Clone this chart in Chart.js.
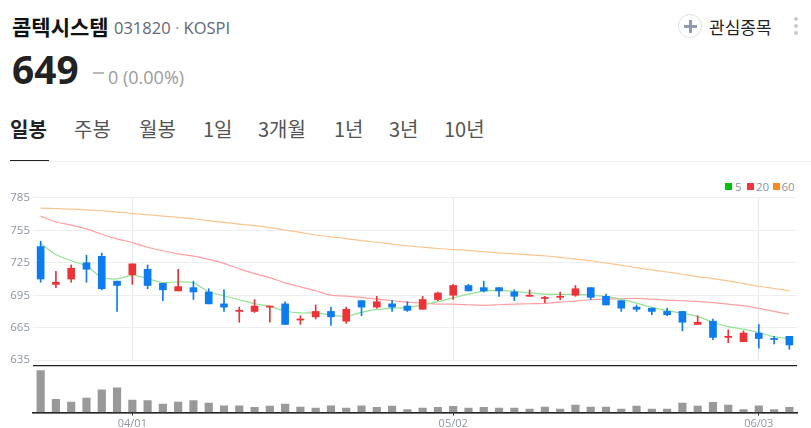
<!DOCTYPE html>
<html lang="ko"><head><meta charset="utf-8">
<script src="https://cdn.jsdelivr.net/npm/chart.js@4/dist/chart.umd.min.js"></script>
<style>
html,body{margin:0;padding:0;background:#fff;width:811px;height:428px;overflow:hidden}
body{font-family:"Noto Sans CJK KR","Noto Sans",sans-serif;position:relative}
.t{position:absolute;white-space:nowrap;transform:translateY(-50%);line-height:1}
canvas{position:absolute;left:0}
.tab{font-size:20px;color:#555}
.b{position:absolute;top:183px;width:7px;height:7px}
.l{font-size:11.5px;color:#8b95a1;font-family:'Open Sans'}
</style></head><body>
<div class="t" style="left:12px;top:26px;font-size:21px;font-weight:700;color:#111">콤텍시스템</div>
<div class="t" style="left:114px;top:28px;font-size:16.5px;color:#5f6877;font-family:'Open Sans'">031820 <span style="color:#9aa2ad">·</span> KOSPI</div>
<div class="t" style="left:12px;top:69px;font-size:38.8px;font-weight:700;color:#222;font-family:'Noto Sans'">649</div>
<div style="position:absolute;left:93px;top:72px;width:11px;height:1.5px;background:#bbb"></div>
<div class="t" style="left:108px;top:77px;font-size:18px;color:#9b9b9b;font-family:'Open Sans'">0 (0.00%)</div>
<div style="position:absolute;left:678px;top:14px;width:22px;height:22px;border:1.5px solid #dde0e7;border-radius:50%"></div>
<div style="position:absolute;left:684px;top:24.5px;width:13px;height:3px;background:#8e9bb1"></div>
<div style="position:absolute;left:689px;top:19.5px;width:3px;height:13px;background:#8e9bb1"></div>
<div class="t" style="left:709px;top:26px;font-size:17px;color:#222">관심종목</div>
<div style="position:absolute;left:794px;top:17px;width:4px;height:4px;border-radius:50%;background:#c6cad2"></div>
<div style="position:absolute;left:794px;top:24px;width:4px;height:4px;border-radius:50%;background:#c6cad2"></div>
<div style="position:absolute;left:794px;top:31px;width:4px;height:4px;border-radius:50%;background:#c6cad2"></div>
<div class="t tab" style="left:10px;top:129px;font-weight:700;color:#222">일봉</div>
<div class="t tab" style="left:74px;top:129px">주봉</div>
<div class="t tab" style="left:139px;top:129px">월봉</div>
<div class="t tab" style="left:203px;top:129px">1일</div>
<div class="t tab" style="left:258px;top:129px">3개월</div>
<div class="t tab" style="left:334px;top:129px">1년</div>
<div class="t tab" style="left:389px;top:129px">3년</div>
<div class="t tab" style="left:444px;top:129px">10년</div>
<div style="position:absolute;left:10px;top:161px;width:801px;height:1px;background:#eeeff1"></div>
<div style="position:absolute;left:10px;top:160px;width:39px;height:1.2px;background:#222"></div>
<div class="b" style="left:725px;background:#00c30f"></div><div class="t l" style="left:735px;top:186.5px">5</div>
<div class="b" style="left:747px;background:#f4333f"></div><div class="t l" style="left:756px;top:186.5px">20</div>
<div class="b" style="left:773px;background:#fa8a1e"></div><div class="t l" style="left:781.5px;top:186.5px">60</div>
<canvas id="price" width="811" height="182" style="top:188px"></canvas>
<canvas id="vol" width="811" height="63" style="top:365px"></canvas>
<script>
const categories=['03/22','03/25','03/26','03/27','03/28','03/29','04/01','04/02','04/03','04/04','04/05','04/08','04/09','04/10','04/11','04/12','04/15','04/16','04/17','04/18','04/19','04/22','04/23','04/24','04/25','04/26','04/29','05/02','05/03','05/07','05/08','05/09','05/10','05/13','05/14','05/15','05/16','05/17','05/20','05/21','05/22','05/23','05/24','05/27','05/28','05/29','05/30','06/03','06/04','06/05'];
const opens=[740,705,710,725,731,708,714,719,706,699,702,698,687,680,680,684,687,672,675,680,671,690,684,687,685,682,691,695,704,702,702,698,694,692,693,695,702,694,690,684,683,680,680,668,671,656,652,660,655,657];
const closes=[710,707,720,719,701,704,724,704,700,703,698,687,684,681,685,685,668,673,680,675,682,684,689,684,681,691,697,704,699,699,699,694,695,693,694,701,693,686,683,682,680,677,670,670,656,657,660,655,654,649];
const highs=[745,717,723,732,734,708,724,723,706,719,708,701,700,684,691,685,689,676,686,684,684,690,694,690,689,694,698,705,705,708,702,700,700,694,698,704,702,696,690,686,683,683,680,676,673,663,662,668,657,657];
const lows=[707,702,707,707,700,680,705,701,690,699,691,687,680,670,679,670,668,668,673,667,669,676,683,680,680,682,690,691,699,698,694,690,694,688,691,694,691,686,680,680,677,676,662,668,654,651,652,646,650,645];
const ma5=[742.8,732.7,726.9,722,711.6,710.1,713.4,710.4,706.7,707.3,706.4,698.2,694.5,690.8,687.1,684.7,680.4,678.6,678.6,676.7,675.5,679.2,681.9,682.9,683.8,685.9,689,692.6,696,698.8,699.4,698.5,697.2,696,695.7,695.7,695.1,693.9,691.4,687.7,683.8,680.7,678.3,675.5,670,666,663.6,660.5,656.6,655];
const ma20=[768.2,762.7,759.9,756.3,751.4,747.1,743.7,739.4,736.1,733.3,731.2,728.1,724.4,719.3,715,711.3,706.4,702.7,699.1,695.1,694.2,693,691.4,689.9,688.7,687.8,686.8,686.8,686.2,685.6,686.2,686.8,687.1,687.4,688.7,689.6,690.8,691.4,691.7,692,691.4,690.5,689.9,689.3,688.1,686.8,685.3,682.9,680.1,677.4];
const ma60=[775.5,775.2,774.6,774,773.1,771.9,770.6,769.4,768.2,767,765.7,763.9,762.4,760.8,759.3,757.5,755.3,753.2,750.7,748.9,747.4,745.5,744,742.2,740.7,739.4,738.2,737.3,736.4,735.2,734.2,733.3,732.4,731.5,730,728.4,726.9,724.8,722.6,720.5,718.4,716.5,714.4,712.2,710.4,708.3,705.8,703.3,701.2,699];
const volumes=[1240,390,310,430,670,730,370,350,250,310,350,280,200,200,150,190,250,160,130,200,130,200,150,190,90,130,150,180,130,150,130,130,100,160,100,220,160,160,100,190,100,100,280,190,300,220,90,200,90,150];
const xTickLabels=['04/01','05/02','06/03'];
const maNames=['5','20','60'];
const lineColors=['#93e293','#ff9ea3','#fbc48e'];
const blue='#0d7cf0',red='#ee3338',axisGrey='#8b95a1';
const isTick=i=>xTickLabels.includes(categories[i]);
const candleColor=ctx=>closes[ctx.dataIndex]<opens[ctx.dataIndex]?blue:red;
const fixW=s=>{s.width=33};
const ds=(i,data)=>({type:'line',label:maNames[i],data,borderColor:lineColors[i],borderWidth:1.2,pointRadius:0,tension:.25,order:3,yAxisID:'y'});
new Chart(document.getElementById('price'),{
 data:{labels:categories,datasets:[
  {type:'bar',label:'wick',data:categories.map((c,i)=>[lows[i],highs[i]]),backgroundColor:candleColor,barThickness:1,grouped:false,order:1,yAxisID:'y'},
  {type:'bar',label:'body',data:categories.map((c,i)=>[opens[i],closes[i]]),backgroundColor:candleColor,barThickness:7,grouped:false,order:2,yAxisID:'y'},
  ds(0,ma5),ds(1,ma20),ds(2,ma60)]},
 options:{responsive:false,animation:false,devicePixelRatio:1,
  layout:{padding:{left:0,right:14,top:4.5,bottom:2.5}},
  plugins:{tooltip:{enabled:false},legend:{display:false}},
  scales:{
   x:{offset:true,afterFit:s=>{s.height=0},border:{display:false},ticks:{display:false,autoSkip:false},
      grid:{drawTicks:false,offset:false,color:ctx=>ctx.index!==undefined&&isTick(ctx.index)?'#e6e9ee':'rgba(0,0,0,0)',lineWidth:1}},
   y:{min:635,max:785,afterFit:fixW,border:{display:false},
      ticks:{stepSize:30,padding:3,color:axisGrey,font:{size:11.5,family:'"Open Sans"'}},
      grid:{drawTicks:false,color:'#eceef1',lineWidth:1}}
  }}
});
new Chart(document.getElementById('vol'),{
 type:'bar',
 data:{labels:categories,datasets:[{label:'거래량',data:volumes,backgroundColor:'#999999',barThickness:7.5}]},
 options:{responsive:false,animation:false,devicePixelRatio:1,
  layout:{padding:{left:0,right:14,top:0.5,bottom:0}},
  plugins:{tooltip:{enabled:false},legend:{display:false}},
  scales:{
   x:{afterFit:s=>{s.height=15.5},border:{color:'#222',width:1.4},
      ticks:{autoSkip:false,maxRotation:0,padding:2,color:axisGrey,font:{size:11,family:'"Open Sans"'},callback:(v,i)=>isTick(i)?categories[i]:''},
      grid:{offset:false,drawOnChartArea:false,tickLength:3,tickColor:ctx=>ctx.index!==undefined&&isTick(ctx.index)?'#222':'rgba(0,0,0,0)'}},
   y:{min:0,max:1390,afterFit:fixW,border:{display:false},
      ticks:{display:false,stepSize:1390},
      grid:{drawTicks:false,color:'#222',lineWidth:1.2}}
  }}
});
</script>
</body></html>
